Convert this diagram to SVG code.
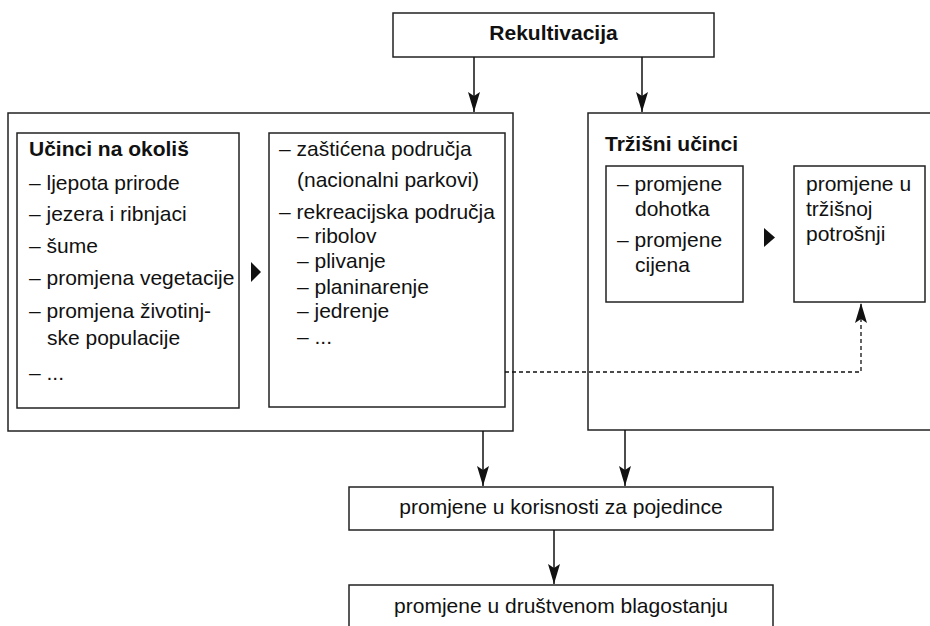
<svg xmlns="http://www.w3.org/2000/svg" width="930" height="626" viewBox="0 0 930 626">
<style>
.box{fill:#fff;stroke:#222;stroke-width:1.5}
.t{font-family:"Liberation Sans",Arial,sans-serif;font-size:21px;fill:#111}
.b{font-weight:bold}
.c{stroke:#111;stroke-width:1.5;fill:none}
.d{stroke:#111;stroke-width:1.3;fill:none;stroke-dasharray:4 3}
.tri{fill:#111}
</style>
<defs>
<marker id="ah" viewBox="0 0 22 12" refX="21" refY="6" markerWidth="22" markerHeight="12" markerUnits="userSpaceOnUse" orient="auto">
<path d="M1,0 L5,6 L1,12 L21,6 Z" fill="#111"/>
</marker>
</defs>
<g id="rekultivacija">
<rect class="box" x="393" y="13" width="321" height="44"/>
<text class="t b" x="553.5" y="40" text-anchor="middle">Rekultivacija</text>
</g>
<g id="okolis-outer">
<rect class="box" x="8" y="113" width="505" height="318"/>
</g>
<g id="ucinci-okolis">
<rect class="box" x="17" y="133" width="222" height="275"/>
<text class="t b" x="29" y="156">Učinci na okoliš</text>
<text class="t" x="29" y="190">– ljepota prirode</text>
<text class="t" x="29" y="221">– jezera i ribnjaci</text>
<text class="t" x="29" y="253">– šume</text>
<text class="t" x="29" y="285">– promjena vegetacije</text>
<text class="t" x="29" y="318">– promjena životinj-</text>
<text class="t" x="47" y="345">ske populacije</text>
<text class="t" x="29" y="380">– ...</text>
</g>
<polygon class="tri" points="251,262 261,272 251,282"/>
<g id="podrucja">
<rect class="box" x="269" y="133" width="236" height="274"/>
<text class="t" x="279" y="156">– zaštićena područja</text>
<text class="t" x="297" y="187">(nacionalni parkovi)</text>
<text class="t" x="279" y="219">– rekreacijska područja</text>
<text class="t" x="297" y="243">– ribolov</text>
<text class="t" x="297" y="268">– plivanje</text>
<text class="t" x="297" y="294">– planinarenje</text>
<text class="t" x="297" y="318">– jedrenje</text>
<text class="t" x="297" y="344">– ...</text>
</g>
<g id="trzisni-outer">
<rect class="box" x="588" y="113" width="360" height="317"/>
<text class="t b" x="605" y="151">Tržišni učinci</text>
</g>
<g id="promjene-dohotka">
<rect class="box" x="606" y="166" width="137" height="136"/>
<text class="t" x="617" y="191">– promjene</text>
<text class="t" x="635" y="216">dohotka</text>
<text class="t" x="617" y="247">– promjene</text>
<text class="t" x="635" y="272">cijena</text>
</g>
<polygon class="tri" points="764,228 775,237.5 764,247"/>
<g id="trzisna-potrosnja">
<rect class="box" x="794" y="166" width="131" height="136"/>
<text class="t" x="806" y="191">promjene u</text>
<text class="t" x="806" y="216">tržišnoj</text>
<text class="t" x="806" y="241">potrošnji</text>
</g>
<g id="korisnost">
<rect class="box" x="349" y="487" width="424" height="43"/>
<text class="t" x="561" y="514" text-anchor="middle">promjene u korisnosti za pojedince</text>
</g>
<g id="blagostanje">
<rect class="box" x="349" y="585" width="424" height="60"/>
<text class="t" x="561" y="613" text-anchor="middle">promjene u društvenom blagostanju</text>
</g>
<g id="connectors">
<line class="c" x1="474" y1="57" x2="474" y2="112" marker-end="url(#ah)"/>
<line class="c" x1="642" y1="57" x2="642" y2="112" marker-end="url(#ah)"/>
<line class="c" x1="483" y1="431" x2="483" y2="486" marker-end="url(#ah)"/>
<line class="c" x1="625" y1="430" x2="625" y2="486" marker-end="url(#ah)"/>
<line class="c" x1="554" y1="530" x2="554" y2="584" marker-end="url(#ah)"/>
<path class="d" d="M505,372 H861 V303" marker-end="url(#ah)"/>
</g>
</svg>
